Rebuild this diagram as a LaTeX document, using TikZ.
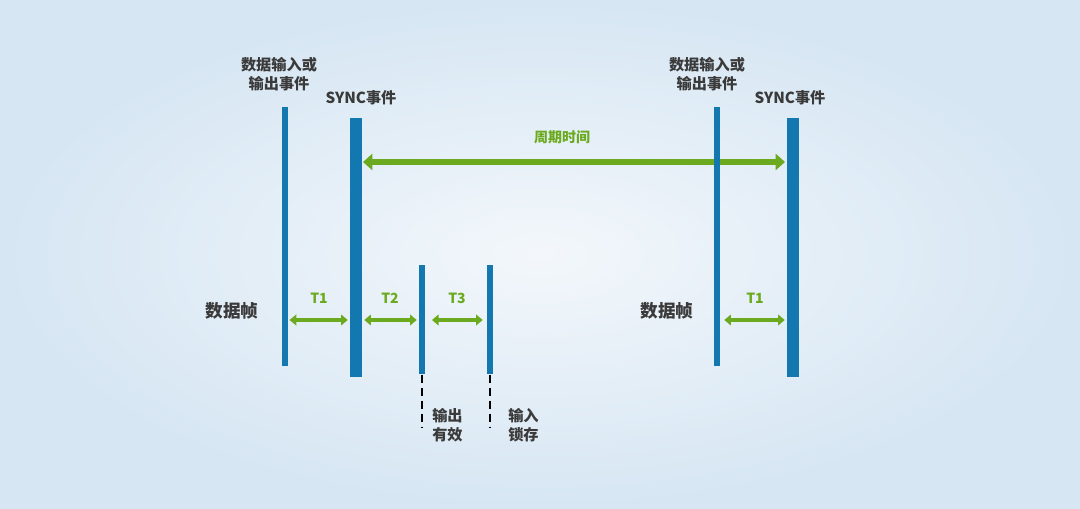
\documentclass[tikz,border=0pt]{standalone}
\usepackage{fontspec}
\setmainfont{Noto Sans CJK SC}
\usetikzlibrary{arrows.meta}
\definecolor{barblue}{HTML}{1478B0}
\definecolor{arrgreen}{HTML}{6BAA1E}
\definecolor{txtgray}{HTML}{3A3A3A}
\definecolor{bgin}{HTML}{F3F7FB}
\definecolor{bgout}{HTML}{D6E6F3}
\tikzset{
  bar/.style={fill=barblue, draw=none, inner sep=0pt, anchor=north, minimum width=#1*0.75pt},
  lbl/.style={text=txtgray, font=\bfseries\fontsize{11.4}{14.3}\selectfont, align=center, inner sep=0pt},
  biglbl/.style={text=txtgray, font=\bfseries\fontsize{13.2}{16}\selectfont, inner sep=0pt},
  tlbl/.style={text=arrgreen, font=\bfseries\fontsize{10.5}{12}\selectfont, inner sep=0pt},
  tarr/.style={draw=arrgreen, line width=3pt, {Triangle[length=5pt,width=8pt]}-{Triangle[length=5pt,width=8pt]}},
  parr/.style={draw=arrgreen, line width=5pt, {Triangle[length=7pt,width=12pt]}-{Triangle[length=7pt,width=12pt]}},
  dashline/.style={draw=black, line width=2.2pt, dash pattern=on 6pt off 3.75pt},
}
\begin{document}
\begin{tikzpicture}[x=0.75pt,y=-0.75pt]
\shade[inner color=bgin, outer color=bgout, shading=radial] (0,0) rectangle (1080,509);
\useasboundingbox (0,0) rectangle (1080,509);
% period arrow (behind bars)
\coordinate (pl) at (363,162);
\coordinate (pr) at (785,162);
\draw[parr] (pl) -- (pr);
\node[tlbl] (period) at (562,137) {周期时间};
% bars
\node[bar=6, minimum height=259*0.75pt] (barA) at (285,107) {};
\node[bar=12, minimum height=259*0.75pt] (barB) at (356,118) {};
\node[bar=6, minimum height=109*0.75pt] (barC) at (422,265) {};
\node[bar=6, minimum height=109*0.75pt] (barD) at (490,265) {};
\node[bar=6, minimum height=259*0.75pt] (barE) at (717,107) {};
\node[bar=12, minimum height=259*0.75pt] (barF) at (793,118) {};
% dashed extensions
\coordinate (dC) at (422,427);
\coordinate (dD) at (490,427);
\draw[dashline] (barC.south) -- (dC);
\draw[dashline] (barD.south) -- (dD);
% timing arrows
\coordinate (y1) at (0,320);
\draw[tarr] ([xshift=1pt]barA.east |- y1) -- ([xshift=-1.5pt]barB.west |- y1);
\draw[tarr] ([xshift=1.5pt]barB.east |- y1) -- ([xshift=-1.5pt]barC.west |- y1);
\draw[tarr] ([xshift=5pt]barC.east |- y1) -- ([xshift=-3pt]barD.west |- y1);
\draw[tarr] ([xshift=3pt]barE.east |- y1) -- ([xshift=-1.5pt]barF.west |- y1);
\node[tlbl] (t1a) at (319,298) {T1};
\node[tlbl] (t2) at (390,298) {T2};
\node[tlbl] (t3) at (457,298) {T3};
\node[tlbl] (t1b) at (755,298) {T1};
% labels
\node[lbl] (evA) at (279,74) {数据输入或\\输出事件};
\node[lbl] (syA) at (361,98) {SYNC事件};
\node[lbl] (evE) at (707,74) {数据输入或\\输出事件};
\node[lbl] (syE) at (790,98) {SYNC事件};
\node[biglbl] (frA) at (232,311) {数据帧};
\node[biglbl] (frE) at (667,311) {数据帧};
\node[lbl, anchor=west] (outv) at (432,425) {输出\\有效};
\node[lbl, anchor=west] (inl) at (508,425) {输入\\锁存};
\end{tikzpicture}
\end{document}
